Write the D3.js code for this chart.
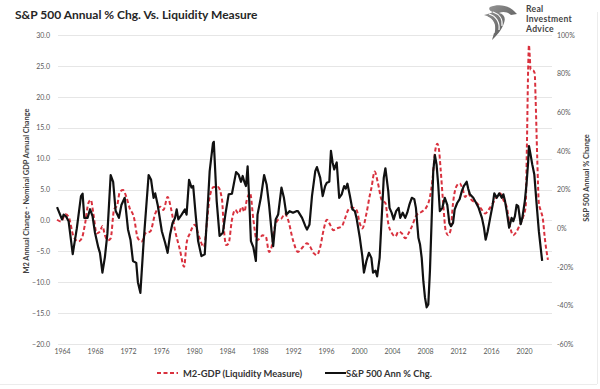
<!DOCTYPE html>
<html><head><meta charset="utf-8">
<script src="https://cdn.jsdelivr.net/npm/d3@7"></script>
<style>
body{margin:0;background:#fff;}
svg{display:block;font-family:Lato,"Open Sans",sans-serif;}
</style></head><body>
<svg id="c" width="600" height="389"></svg>
<script>
const chartTitle = "S&P 500 Annual % Chg. Vs. Liquidity Measure";
const leftTicks = [30, 25, 20, 15, 10, 5, 0, -5, -10, -15, -20];
const rightTicks = [100, 80, 60, 40, 20, 0, -20, -40, -60];
const xTicks = [1964,1968,1972,1976,1980,1984,1988,1992,1996,2000,2004,2008,2012,2016,2020];
const seriesNames = ["M2-GDP (Liquidity Measure)", "S&P 500 Ann % Chg."];

const spYears = [1963.4,1964.0,1964.2,1964.5,1964.8,1965.3,1965.8,1966.3,1966.5,1966.7,
1967.1,1967.4,1967.7,1968.0,1968.4,1968.6,1968.9,1969.2,1969.5,1969.9,
1970.2,1970.5,1970.9,1971.2,1971.6,1972.0,1972.3,1972.6,1973.0,1973.2,
1973.5,1973.9,1974.5,1974.8,1975.1,1975.3,1975.6,1976.1,1976.5,1976.8,
1977.1,1977.4,1977.7,1977.9,1978.1,1978.5,1978.9,1979.1,1979.4,1979.7,
1979.9,1980.2,1980.5,1980.9,1981.3,1981.7,1981.9,1982.3,1982.4,1982.75,
1983.1,1983.5,1983.8,1984.2,1984.6,1985.1,1985.4,1985.7,1985.9,1986.1,
1986.3,1986.5,1986.7,1986.9,1987.2,1987.5,1987.7,1988.1,1988.5,1988.8,
1989.1,1989.4,1989.6,1989.9,1990.2,1990.6,1990.9,1991.2,1991.6,1992.0,
1992.4,1992.6,1993.1,1993.5,1993.7,1994.0,1994.3,1994.7,1994.9,1995.3,
1995.6,1995.9,1996.1,1996.4,1996.6,1996.8,1997.0,1997.3,1997.6,1997.9,
1998.2,1998.4,1998.6,1998.9,1999.2,1999.5,1999.7,2000.1,2000.4,2000.6,
2000.9,2001.2,2001.5,2001.7,2002.0,2002.2,2002.5,2002.75,2003.0,2003.2,
2003.55,2003.7,2003.95,2004.2,2004.5,2004.8,2005.0,2005.3,2005.6,2005.85,
2006.1,2006.4,2006.7,2006.9,2007.2,2007.4,2007.6,2007.8,2008.0,2008.2,
2008.4,2008.6,2008.8,2009.0,2009.2,2009.4,2009.6,2009.8,2010.1,2010.4,
2010.7,2010.95,2011.15,2011.4,2011.6,2011.9,2012.2,2012.45,2012.7,2013.05,
2013.25,2013.45,2013.85,2014.2,2014.5,2014.9,2015.15,2015.35,2015.6,2015.9,
2016.2,2016.4,2016.7,2017.0,2017.3,2017.5,2017.7,2017.9,2018.2,2018.5,
2018.7,2018.9,2019.1,2019.3,2019.6,2019.8,2020.1,2020.3,2020.5,2020.6,
2020.8,2021.0,2021.25,2021.5,2021.8,2022.2];
const spValues = [10.9,4.5,7,6,3.6,-13.5,0,16.6,17.8,5.3,
5.3,9.8,6.2,-2.4,-10,-12.8,-23,-15,-3,27.5,
24,9,5.3,12,15.7,-0.7,-6,-17,-18,-28,
-33.5,-6.7,27.5,25,15.7,18,12,-1.6,-7.6,-12.8,
-3.3,2.7,5.3,9.7,4.5,7,9.7,7,25,21,
21.8,7,-6.7,-14.5,-13.6,14,29.5,44,44.7,14,
-4,-2.4,7,17.5,17.8,29,27.8,24,27,24,
21.8,32,14,-6.7,-10,-17,7,15.7,27.5,22.6,
12,-1.6,-9.3,4.5,7,21,15.7,7,8.8,8,
8.8,8.8,5.3,1,-0.7,1.9,16.6,29.5,31.6,26,
16.6,21.8,23.5,24,40,34,30.4,34,15.7,17.5,
21.8,20.5,23,16.6,9.7,8.8,5.3,-5,-14.5,-23,
-17,-12.8,-15.4,-23,-22,-25,-15.4,5.3,26,31,
19,10.5,8,4.5,8.8,10.5,5.3,8,5.3,8,
12,15.7,15,10.5,-5,-8.5,-15.4,-27.5,-36,-41,
-39.5,-22,3.6,29.5,37.8,33,22.6,8.8,10.5,15.7,
12,2.7,1,2.7,9.7,13,15,19,21.8,24,
20.2,17.5,15.7,13,10.5,5.3,0.2,-6,-1.6,5.3,
12,18,15.7,18,15.7,17.5,14,8.8,0.2,5.3,
3.6,6.2,12,11.4,2,5.3,14,22.6,34,42.5,
38,33,27.8,14,-1.6,-17];

const m2Years = [1963.4,1963.9,1964.4,1964.8,1965.4,1966.0,1966.4,1966.8,1967.2,1967.5,
1967.8,1968.2,1968.6,1968.9,1969.2,1969.6,1969.9,1970.3,1970.7,1971.0,
1971.4,1971.8,1972.2,1972.7,1973.2,1973.7,1974.1,1974.7,1975.3,1975.9,
1976.3,1976.8,1977.2,1977.7,1978.3,1978.8,1979.1,1979.5,1980.1,1980.6,
1981.2,1981.6,1981.9,1982.4,1982.9,1983.4,1983.6,1983.9,1984.2,1984.6,
1985.0,1985.4,1985.8,1986.1,1986.4,1986.8,1987.2,1987.6,1988.0,1988.3,
1988.7,1989.1,1989.4,1989.8,1990.2,1990.6,1991.0,1991.4,1992.0,1992.6,
1993.2,1993.7,1994.1,1994.5,1994.9,1995.3,1995.7,1996.1,1996.5,1996.9,
1997.3,1997.9,1998.3,1998.7,1999.1,1999.7,2000.1,2000.4,2000.9,2001.3,
2001.5,2001.9,2002.3,2002.75,2003.2,2003.55,2004.0,2004.4,2004.8,2005.2,
2005.6,2006.0,2006.4,2007.0,2007.6,2008.2,2008.6,2008.9,2009.2,2009.5,
2009.7,2009.9,2010.2,2010.5,2010.8,2011.1,2011.4,2011.8,2012.2,2012.6,
2012.85,2013.25,2013.65,2014.3,2014.9,2015.3,2015.7,2016.1,2016.7,2017.1,
2017.5,2017.9,2018.3,2018.7,2019.1,2019.5,2019.9,2020.2,2020.35,2020.5,
2020.6,2020.7,2020.8,2021.1,2021.3,2021.4,2021.6,2021.8,2022.0,2022.3,
2022.5,2022.9];
const m2Values = [0.1,-0.2,1.0,0.6,-2.6,-3.4,-2.9,-0.5,2.8,3.3,
1.1,-2.1,-1.8,-0.9,-2.4,-3.2,-2.9,1.7,2.5,4.6,
4.9,3.8,2.0,0.6,-2.9,-3.4,-2.1,-1.8,1.1,2.2,
1.7,3.8,2.0,-1.6,-4.8,-7.5,-3.7,-2.1,-0.7,-2.6,
-4.3,0.1,3.8,5.4,5.4,3.3,-1.0,-4.0,-3.7,0.1,
1.7,1.1,2.2,1.4,3.3,4.4,0.1,-3.2,-2.9,-2.4,
-2.6,-5.1,-4.3,-1.0,0.1,0.3,1.1,0.1,-3.2,-5.1,
-4.3,-3.7,-4.3,-5.3,-5.6,-4.3,-1.6,0.1,-0.7,-1.6,
-1.3,-1.0,0.3,1.7,2.1,1.7,-0.5,-1.3,1.1,4.0,
5.2,7.9,6.0,3.3,2.8,-0.5,-2.1,-2.6,-1.8,-2.1,
-2.9,-2.1,-1.0,0.9,1.4,2.2,3.8,6.5,10.9,12.4,
11.4,8.2,2.8,-1.6,-2.4,-1.6,2.8,5.5,6.0,4.9,
3.8,4.4,3.3,2.8,1.7,1.1,1.7,2.5,3.8,4.4,
3.3,2.2,-1.0,-2.4,-1.8,-0.7,0.6,2.2,11.9,24.3,
28.4,26.5,24.4,24.3,23.8,20.0,10.3,2.8,1.7,0.1,
-2.6,-6.4];

const RED = "#d9313e";
const svg = d3.select("#c");

const x = d3.scaleLinear().domain([1964, 2020]).range([62, 524]);
const yL = d3.scaleLinear().domain([-20, 30]).range([344, 35]);
const yR = d3.scaleLinear().domain([-60, 100]).range([344, 35]);

// faint frame
svg.append("line").attr("x1",0).attr("x2",597).attr("y1",384.5).attr("y2",384.5).attr("stroke","#ececec");
svg.append("line").attr("x1",597.5).attr("x2",597.5).attr("y1",12).attr("y2",384).attr("stroke","#ececec");

// gridlines
svg.append("g").selectAll("line").data(leftTicks).join("line")
  .attr("x1", 58).attr("x2", 552)
  .attr("y1", d => Math.round(yL(d)) + 0.5).attr("y2", d => Math.round(yL(d)) + 0.5)
  .attr("stroke", "#e6e6e6").attr("stroke-width", 1);

function styleAxis(g){
  g.select(".domain").remove();
  g.selectAll("text").attr("font-size", 7).attr("fill", "#595959")
    .attr("font-family", "Lato, 'Open Sans', sans-serif");
}
svg.append("g").attr("transform", "translate(58,0)")
  .call(d3.axisLeft(yL).tickValues(leftTicks).tickFormat(d3.format(".1f")).tickSize(0).tickPadding(8))
  .call(styleAxis);
svg.append("g").attr("transform", "translate(552,0)")
  .call(d3.axisRight(yR).tickValues(rightTicks).tickFormat(d => d + "%").tickSize(0).tickPadding(5))
  .call(styleAxis);
svg.append("g").attr("transform", "translate(0,345)")
  .call(d3.axisBottom(x).tickValues(xTicks).tickFormat(d3.format("d")).tickSize(0).tickPadding(4))
  .call(styleAxis);

// axis titles
svg.append("text").attr("transform", "translate(29,191) rotate(-90)")
  .attr("text-anchor", "middle").attr("font-size", 7.4).attr("font-weight", "bold")
  .attr("fill", "#404040").text("M2 Annual Change - Nominal GDP Annual Change");
svg.append("text").attr("transform", "translate(589,178) rotate(-90)")
  .attr("text-anchor", "middle").attr("font-size", 7.4).attr("font-weight", "bold")
  .attr("fill", "#404040").text("S&P 500 Annual % Change");

// lines
const m2Data = d3.zip(m2Years, m2Values);
const spData = d3.zip(spYears, spValues);
svg.append("path").datum(m2Data)
  .attr("fill", "none").attr("stroke", RED).attr("stroke-width", 2)
  .attr("stroke-dasharray", "4,2.5")
  .attr("d", d3.line().x(d => x(d[0])).y(d => yL(d[1])).curve(d3.curveMonotoneX));
svg.append("path").datum(spData)
  .attr("fill", "none").attr("stroke", "#111").attr("stroke-width", 2.2)
  .attr("stroke-linejoin", "round")
  .attr("d", d3.line().x(d => x(d[0])).y(d => yR(d[1])));

// title
svg.append("text").attr("x", 15).attr("y", 19).attr("font-size", 12)
  .attr("font-weight", "bold").attr("fill", "#262626").text(chartTitle);

// logo
const logo = svg.append("g").attr("transform", "translate(484,3)");
const grad = svg.append("defs").append("linearGradient").attr("id", "lg")
  .attr("x1", "0").attr("y1", "0").attr("x2", "1").attr("y2", "1");
grad.append("stop").attr("offset", "0").attr("stop-color", "#9a9a9a");
grad.append("stop").attr("offset", "1").attr("stop-color", "#4a4a4a");
logo.append("path").attr("fill", "url(#lg)")
  .attr("d", "M6,4 C14,1 24,2 30,8 L33,11 L27,12 C24,9 19,8 15,10 C20,11 22,15 20,20 C18,27 12,33 8,37 C10,30 12,25 10,20 C8,16 4,13 0,12 C4,11 7,10 9,9 C6,8 4,6 6,4 Z");
logo.append("path").attr("fill", "none").attr("stroke", "#fff").attr("stroke-width", 1.2)
  .attr("d", "M3,14 C9,16 12,22 10,30 M5,11 C12,13 16,19 15,27 M9,9 C15,11 19,16 18,23");
const lt = svg.append("g").attr("font-size", 8.6).attr("font-weight", "bold").attr("fill", "#444")
  .attr("letter-spacing", 0.3);
lt.append("text").attr("x", 526).attr("y", 12).text("Real");
lt.append("text").attr("x", 526).attr("y", 22).text("Investment");
lt.append("text").attr("x", 526).attr("y", 32).text("Advice");

// legend
const lg = svg.append("g").attr("font-size", 9.4).attr("font-weight", "bold").attr("fill", "#333");
lg.append("line").attr("x1", 157).attr("x2", 178).attr("y1", 373).attr("y2", 373)
  .attr("stroke", RED).attr("stroke-width", 2).attr("stroke-dasharray", "4,2.5");
lg.append("text").attr("x", 183).attr("y", 376.5).text(seriesNames[0]);
lg.append("line").attr("x1", 325).attr("x2", 346).attr("y1", 373).attr("y2", 373)
  .attr("stroke", "#111").attr("stroke-width", 2);
lg.append("text").attr("x", 346).attr("y", 376.5).text(seriesNames[1]);
</script>
</body></html>
